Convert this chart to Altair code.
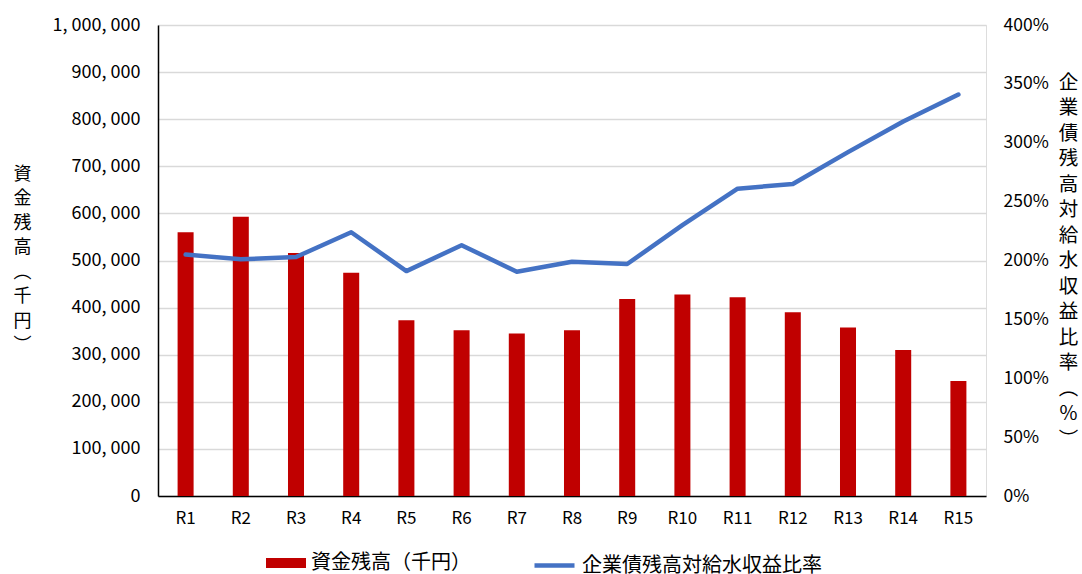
import altair as alt
import pandas as pd

categories = ["R1", "R2", "R3", "R4", "R5", "R6", "R7", "R8", "R9", "R10", "R11", "R12", "R13", "R14", "R15"]
funds = [560000, 593000, 516000, 474000, 373000, 352000, 345000, 352000, 418000, 428000, 422000, 390000, 358000, 310000, 244000]
ratio = [205, 201, 203, 224, 191, 213, 190.5, 199, 197, 230, 261, 265, 292, 318, 341]

bar_name = "資金残高（千円）"
line_name = "企業債残高対給水収益比率"
left_title = ["資", "金", "残", "高", "︵", "千", "円", "︶"]
right_title = ["企", "業", "債", "残", "高", "対", "給", "水", "収", "益", "比", "率", "︵", "%", "︶"]

df = pd.DataFrame({"cat": categories, "funds": funds, "ratio": ratio})
df["s1"] = bar_name
df["s2"] = line_name

FONT = "Noto Sans CJK JP"

x = alt.X("cat:N", sort=categories, title=None,
          scale=alt.Scale(paddingInner=0.71, paddingOuter=0.355),
          axis=alt.Axis(labelAngle=0, labelFontSize=17, labelFont=FONT, labelColor="#000000",
                        labelPadding=14, ticks=False, domainColor="#000000", domainWidth=1.5,
                        grid=False))

bars = alt.Chart(df).mark_bar(color="#C00000").encode(
    x=x,
    y=alt.Y("funds:Q", scale=alt.Scale(domain=[0, 1000000]),
            axis=alt.Axis(values=list(range(0, 1000001, 100000)),
                          labelExpr="datum.value == 0 ? '0' : (datum.value >= 1000000 ? '1, 000, 000' : format(datum.value/1000, 'd') + ', 000')",
                          labelFontSize=18, labelFont=FONT, labelColor="#000000", labelPadding=18,
                          ticks=False, domain=True, domainColor="#000000", domainWidth=1.5,
                          grid=True, gridColor="#D9D9D9", gridWidth=1.5,
                          title=left_title, titleAngle=0, titleFont=FONT, titleFontSize=18,
                          titleFontWeight="normal", titleColor="#000000", titleLineHeight=24.5,
                          titleAlign="center", titleBaseline="top", titleX=-136, titleY=140)),
    color=alt.Color("s1:N", scale=alt.Scale(range=["#C00000"]),
                    legend=alt.Legend(orient="none", legendX=118, legendY=528, title=None,
                                      symbolType="M-2,-0.5H2V0.5H-2Z", symbolSize=400,
                                      symbolStrokeWidth=0,
                                      labelFont=FONT, labelFontSize=20, labelColor="#000000",
                                      labelOffset=15, labelLimit=400)),
)

line = alt.Chart(df).mark_line(strokeWidth=4.5, strokeCap="round", strokeJoin="round").encode(
    x=x,
    y=alt.Y("ratio:Q", scale=alt.Scale(domain=[0, 400]),
            axis=alt.Axis(orient="right", values=list(range(0, 401, 50)),
                          labelExpr="datum.value + '%'",
                          labelFontSize=17.5, labelFont=FONT, labelColor="#000000", labelPadding=17,
                          ticks=False, domain=False, grid=False,
                          title=right_title, titleAngle=0, titleFont=FONT, titleFontSize=19.5,
                          titleFontWeight="normal", titleColor="#000000", titleLineHeight=25.5,
                          titleAlign="center", titleBaseline="top", titleX=82, titleY=48)),
    color=alt.Color("s2:N", scale=alt.Scale(range=["#4472C4"]),
                    legend=alt.Legend(orient="none", legendX=384, legendY=528, title=None,
                                      symbolType="M-2,0H2", symbolSize=400, symbolStrokeWidth=4.5,
                                      labelFont=FONT, labelFontSize=20, labelColor="#000000",
                                      labelOffset=15, labelLimit=400)),
)

chart = alt.layer(bars, line).resolve_scale(y="independent", color="independent").properties(
    width=828, height=471,
    autosize=alt.AutoSizeParams(type="none"),
    padding={"left": 158, "top": 25, "right": 96, "bottom": 78},
).configure_view(stroke=None).configure(font=FONT)

chart.save("out.html", embed_options={"renderer": "svg", "actions": False})
